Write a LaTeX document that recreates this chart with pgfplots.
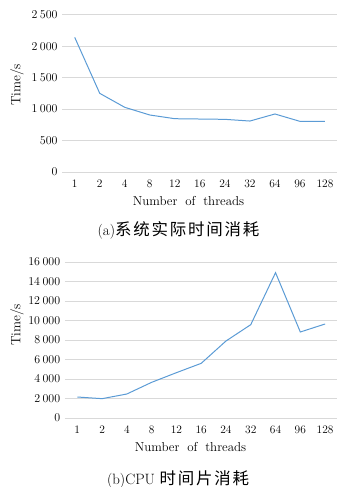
\documentclass[border=0pt]{standalone}
\usepackage{fontspec}
\usepackage{pgfplots}
\pgfplotsset{compat=1.18}
\newfontfamily\cjk[LetterSpace=11]{Noto Sans CJK SC}
\definecolor{lineblue}{HTML}{5B9BD5}
\definecolor{gridgray}{HTML}{D9D9D9}
\pgfplotsset{
  mystyle/.style={
    scale only axis,
    axis line style={draw=none},
    tick style={draw=none},
    xmin=-0.5, xmax=10.48,
    ymin=0,
    xtick={0,...,10},
    xticklabels={1,2,4,8,12,16,24,32,64,96,128},
    scaled y ticks=false,
    ymajorgrids,
    major grid style={gridgray, line width=0.9pt},
    major tick length=0pt,
    tick label style={font=\fontsize{11.5}{13}\selectfont},
    every x tick label/.append style={yshift=-4.3pt},
    every y tick label/.append style={xshift=-1.2pt},
    /pgf/number format/.cd, 1000 sep={\hspace{0.22em}},
  },
}
\begin{document}
\begin{tikzpicture}
% ---------- (a) ----------
\begin{axis}[mystyle,
  at={(62.2bp,-14.7bp)}, anchor=north west,
  width=274.8bp, height=157.3bp,
  ymax=2500, ytick={0,500,...,2500}]
\addplot[lineblue, line width=1pt] coordinates {
(0,2140) (1,1250) (2,1028) (3,906) (4,847) (5,842) (6,837) (7,810) (8,922) (9,805) (10,805)};
\end{axis}
\node[rotate=90, font=\fontsize{13.5}{15}\selectfont] at (17bp,-85bp) {Time/s};
\node[anchor=base, font=\fontsize{13}{15}\selectfont] at (188.5bp,-205bp) {Number\hspace{0.6em}of\hspace{0.6em}threads};
\node[anchor=base, font=\fontsize{15}{17}\selectfont, inner sep=0pt] at (178.5bp,-235.5bp) {(a){\cjk\fontsize{16.5}{18}\selectfont 系统实际时间消耗}};
% ---------- (b) ----------
\begin{axis}[mystyle,
  at={(64.9bp,-262bp)}, anchor=north west,
  width=272.1bp, height=156bp,
  ymax=16000, ytick={0,2000,...,16000}]
\addplot[lineblue, line width=1pt] coordinates {
(0,2154) (1,1983) (2,2462) (3,3658) (4,4650) (5,5607) (6,7897) (7,9573) (8,14906) (9,8821) (10,9641)};
\end{axis}
\node[rotate=90, font=\fontsize{13.5}{15}\selectfont] at (17bp,-325bp) {Time/s};
\node[anchor=base, font=\fontsize{13}{15}\selectfont] at (190.5bp,-451.7bp) {Number\hspace{0.6em}of\hspace{0.6em}threads};
\node[anchor=base, font=\fontsize{15}{17}\selectfont, inner sep=0pt] at (178bp,-484.5bp) {(b)CPU {\cjk\fontsize{16.5}{18}\selectfont 时间片消耗}};
\pgfresetboundingbox
\useasboundingbox (0,0) rectangle (337bp,-487bp);
\end{tikzpicture}
\end{document}
